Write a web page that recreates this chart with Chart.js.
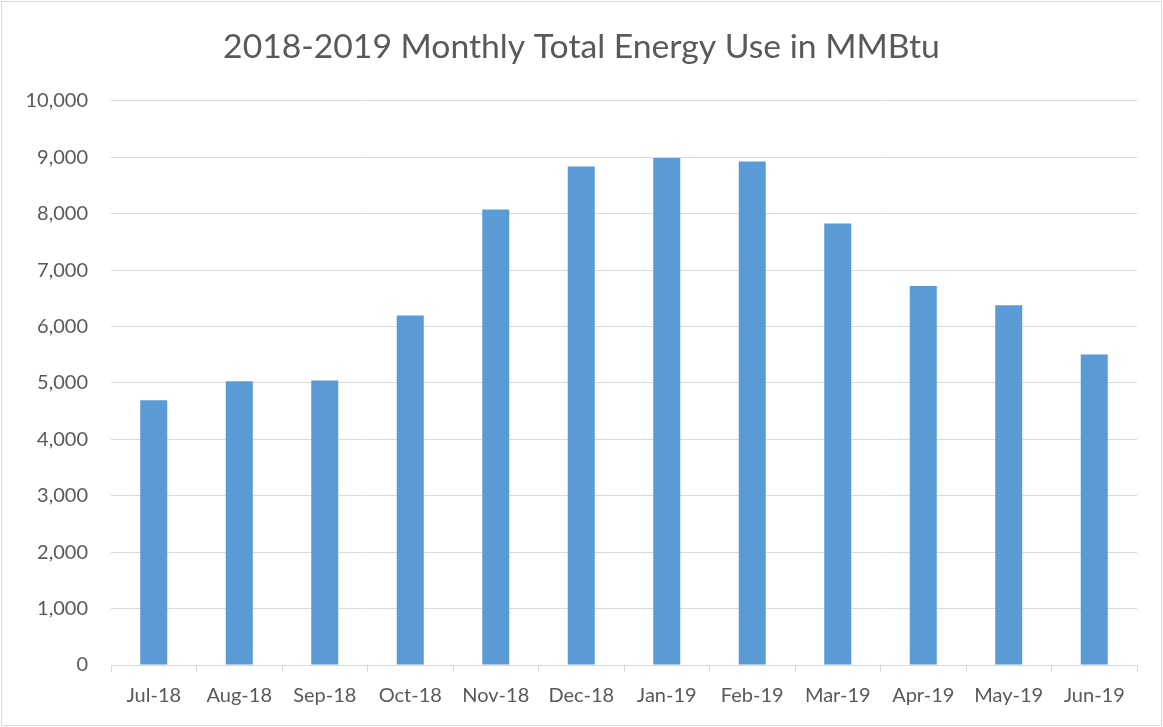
<!DOCTYPE html>
<html>
<head>
<meta charset="utf-8">
<script src="https://cdn.jsdelivr.net/npm/chart.js@4/dist/chart.umd.min.js"></script>
<style>
  html, body { margin: 0; padding: 0; background: #fff; }
  #chart { display: block; outline: 1px solid #d9d9d9; outline-offset: -2px; }
</style>
</head>
<body>
<canvas id="chart" width="1163" height="727"></canvas>
<script>
// Data
const months = ['Jul-18', 'Aug-18', 'Sep-18', 'Oct-18', 'Nov-18', 'Dec-18',
                'Jan-19', 'Feb-19', 'Mar-19', 'Apr-19', 'May-19', 'Jun-19'];
const energyUse = [4695, 5030, 5045, 6195, 8075, 8838, 8990, 8925, 7828, 6720, 6380, 5505];
const yTicks = [0, 1000, 2000, 3000, 4000, 5000, 6000, 7000, 8000, 9000, 10000];

const textColor = '#595959';
const gridColor = '#d9d9d9';
const fontFamily = 'Lato, "Open Sans", sans-serif';

const ctx = document.getElementById('chart').getContext('2d');
new Chart(ctx, {
    type: 'bar',
    data: {
        labels: months,
        datasets: [{
            label: 'Total Energy Use (MMBtu)',
            data: energyUse,
            backgroundColor: '#5b9bd5',
            borderWidth: 0,
            categoryPercentage: 1,
            barPercentage: 0.316
        }]
    },
    options: {
        responsive: false,
        animation: false,
        layout: { padding: { top: 12, right: 0, bottom: 0, left: 0 } },
        plugins: {
            legend: { display: false },
            tooltip: { enabled: false },
            title: {
                display: true,
                text: '2018-2019 Monthly Total Energy Use in MMBtu',
                color: textColor,
                font: { family: fontFamily, size: 33.7, weight: 'normal', lineHeight: 1.2 },
                padding: { top: 15, bottom: 33.5 }
            }
        },
        scales: {
            x: {
                grid: {
                    offset: true,
                    drawOnChartArea: false,
                    drawTicks: true,
                    tickLength: 7,
                    color: gridColor
                },
                border: { display: true, color: gridColor, width: 1 },
                ticks: {
                    color: textColor,
                    font: { family: fontFamily, size: 20 },
                    padding: 12,
                    maxRotation: 0,
                    autoSkip: false
                },
                afterFit: (scale) => { scale.height = 62; }
            },
            y: {
                min: 0,
                max: 10000,
                grid: { color: gridColor, lineWidth: 1, drawTicks: false },
                border: { display: false },
                afterBuildTicks: (scale) => { scale.ticks = yTicks.map(v => ({ value: v })); },
                ticks: {
                    color: textColor,
                    font: { family: fontFamily, size: 20 },
                    padding: 23,
                    callback: (v) => v.toLocaleString('en-US')
                },
                afterFit: (scale) => { scale.width = 111; }
            },
            // empty right-hand box so the plot ends 26px from the edge
            // while the title stays centred on the full width
            spacer: {
                type: 'linear',
                position: 'right',
                grid: { display: false },
                border: { display: false },
                ticks: { display: false },
                afterFit: (scale) => { scale.width = 26; }
            }
        }
    }
});
</script>
</body>
</html>
